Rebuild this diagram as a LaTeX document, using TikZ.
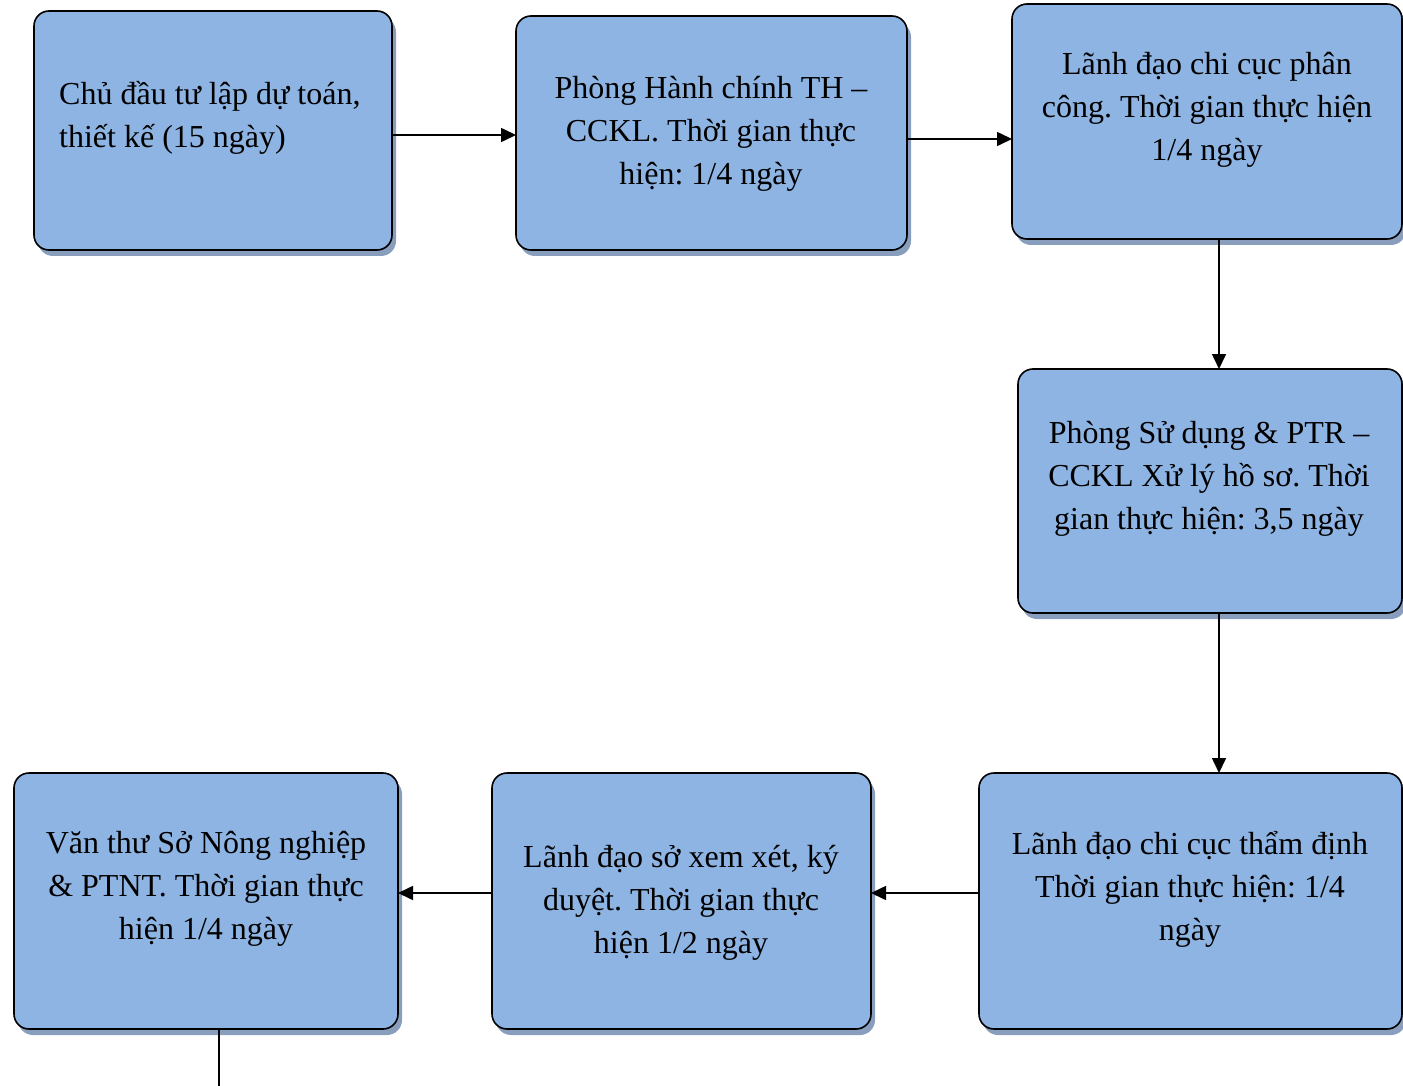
\documentclass[tikz,border=0pt]{standalone}
\usepackage{fontspec}
\setmainfont{Liberation Serif}
\usetikzlibrary{arrows.meta,shadows}
\definecolor{boxfill}{RGB}{142,180,227}
\definecolor{boxshadow}{RGB}{136,158,188}
\frenchspacing
\begin{document}
\begin{tikzpicture}[x=1pt,y=-1pt,
  stepbox/.style={draw=black, line width=1.6pt, fill=boxfill, rounded corners=15pt,
    inner sep=0pt, outer sep=0pt,
    drop shadow={shadow xshift=4pt, shadow yshift=-6pt, fill=boxshadow, opacity=1}},
  label/.style={inner sep=0pt, font=\fontsize{32}{43}\selectfont, align=center},
  arr/.style={line width=1.6pt, -{Triangle[length=15pt,width=14pt]}},
  link/.style={line width=1.6pt}]
\useasboundingbox (0,0) rectangle (1403,1086);

% process boxes
\node[stepbox, minimum width=358pt, minimum height=239pt] (a) at (213,130.5) {};
\node[stepbox, minimum width=391pt, minimum height=234pt] (b) at (711.5,133) {};
\node[stepbox, minimum width=390pt, minimum height=235pt] (c) at (1207,121.5) {};
\node[stepbox, minimum width=384pt, minimum height=244pt] (d) at (1210,491) {};
\node[stepbox, minimum width=423pt, minimum height=256pt] (e) at (1190.5,901) {};
\node[stepbox, minimum width=379pt, minimum height=256pt] (f) at (681.5,901) {};
\node[stepbox, minimum width=384pt, minimum height=256pt] (g) at (206,901) {};

% box texts
\node[label, align=left, anchor=west] (ta) at (59,118) {Chủ đầu tư lập dự toán,\\thiết kế (15 ngày)};
\node[label] (tb) at (711,134) {Phòng Hành chính TH –\\CCKL. Thời gian thực\\hiện: 1/4 ngày};
\node[label] (tc) at (1207,110) {Lãnh đạo chi cục phân\\công. Thời gian thực hiện\\1/4 ngày};
\node[label] (td) at (1209,479) {Phòng Sử dụng \& PTR –\\CCKL Xử lý hồ sơ. Thời\\gian thực hiện: 3,5 ngày};
\node[label] (te) at (1190,889) {Lãnh đạo chi cục thẩm định\\Thời gian thực hiện: 1/4\\ngày};
\node[label] (tf) at (681,903) {Lãnh đạo sở xem xét, ký\\duyệt. Thời gian thực\\hiện 1/2 ngày};
\node[label] (tg) at (206,889) {Văn thư Sở Nông nghiệp\\\& PTNT. Thời gian thực\\hiện 1/4 ngày};

% connectors
\draw[arr] ([yshift=-4.5pt]a.east) -- ([yshift=-4.5pt]a.east -| b.west);
\draw[arr] ([yshift=-6pt]b.east) -- ([yshift=-6pt]b.east -| c.west);
\draw[arr] ([xshift=9pt]d.north |- c.south) -- ([xshift=9pt]d.north);
\draw[arr] ([xshift=9pt]d.south) -- ([xshift=9pt]d.south |- e.north);
\draw[arr] ([yshift=8pt]e.west) -- ([yshift=8pt]e.west -| f.east);
\draw[arr] ([yshift=8pt]f.west) -- ([yshift=8pt]f.west -| g.east);
\coordinate (gout) at (219,1090);
\draw[link] (gout |- g.south) -- (gout);
\end{tikzpicture}
\end{document}
